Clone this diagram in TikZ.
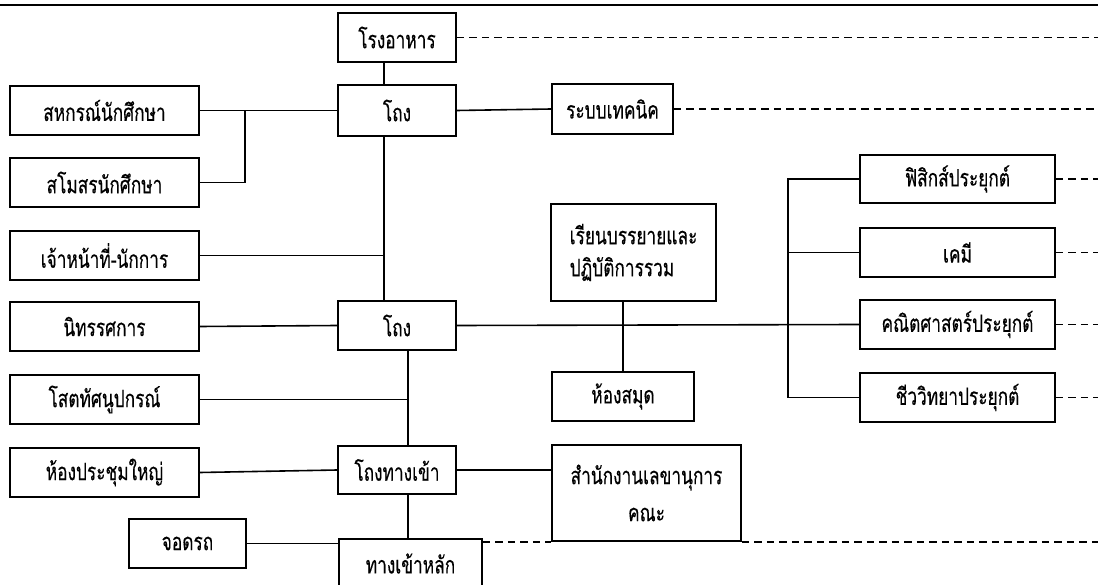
\documentclass[tikz,border=0pt]{standalone}
\usepackage{fontspec}
\newfontfamily\thaifont[Script=Thai,FakeStretch=0.72,FakeBold=0.3]{Loma}

\begin{document}
\begin{tikzpicture}[x=1pt,y=-1pt,
  box/.style={draw, line width=1.6pt, fill=white, inner sep=0pt,
    font=\thaifont\fontsize{24}{32}\selectfont, align=center},
  link/.style={line width=1.6pt},
  lead/.style={line width=1.6pt, dash pattern=on 7.5pt off 5pt}]
\useasboundingbox (0,0) rectangle (1098,585);
\fill[white] (0,0) rectangle (1098,585);
\clip (0,0) rectangle (1098,585);

% rule across the top edge
\draw[line width=1.8pt] (0,5) -- (1098,5);

% central column
\node[box, minimum width=118, minimum height=49] (food)  at (397,37.5)  {โรงอาหาร};
\node[box, minimum width=118, minimum height=51] (hallA) at (397,110.5) {โถง};
\node[box, minimum width=118, minimum height=49] (hallB) at (397,325.5) {โถง};
\node[box, minimum width=118, minimum height=48] (gate)  at (397,470)   {โถงทางเข้า};
\node[box, minimum width=143, minimum height=49] (entry) at (410.5,563.5) {ทางเข้าหลัก};

% left column
\node[box, minimum width=189, minimum height=49] (coop)  at (104.5,110.5) {สหกรณ์นักศึกษา};
\node[box, minimum width=189, minimum height=49] (club)  at (104.5,182.5) {สโมสรนักศึกษา};
\node[box, minimum width=189, minimum height=49] (staff) at (104.5,255.5) {เจ้าหน้าที่-นักการ};
\node[box, minimum width=189, minimum height=49] (exhib) at (104.5,326.5) {นิทรรศการ};
\node[box, minimum width=189, minimum height=49] (av)    at (104.5,399.5) {โสตทัศนูปกรณ์};
\node[box, minimum width=189, minimum height=49] (meet)  at (104.5,472.5) {ห้องประชุมใหญ่};
\node[box, minimum width=117, minimum height=49] (park)  at (187.5,543.5) {จอดรถ};

% middle column
\node[box, minimum width=121, minimum height=50] (tech)   at (612.5,109) {ระบบเทคนิค};
\node[box, minimum width=165, minimum height=97, align=left] (lect) at (633.5,252.5)
  {เรียนบรรยายและ\\ปฏิบัติการรวม};
\node[box, minimum width=142, minimum height=49] (lib)    at (623,396.5) {ห้องสมุด};
\node[box, minimum width=189, minimum height=96, font=\thaifont\fontsize{24}{37}\selectfont] (office) at (646.5,493)
  {สำนักงานเลขานุการ\\คณะ};

% right column
\node[box, minimum width=195, minimum height=48] (phys) at (957.5,179)   {ฟิสิกส์ประยุกต์};
\node[box, minimum width=195, minimum height=49] (chem) at (957.5,252.5) {เคมี};
\node[box, minimum width=195, minimum height=49] (math) at (957.5,324.5) {คณิตศาสตร์ประยุกต์};
\node[box, minimum width=195, minimum height=49] (bio)  at (957.5,397.5) {ชีววิทยาประยุกต์};

% spines and junctions
\coordinate (spA) at (384,0);
\coordinate (spB) at (408,0);
\coordinate (jc)  at (245,110.5);
\coordinate (br)  at (788,0);
\coordinate (edge) at (1098,0);

% upper spine
\draw[link] (food.south -| spA) -- (hallA.north -| spA);
\draw[link] (hallA.south -| spA) -- (hallB.north -| spA);
\draw[link] (coop.east) -- (hallA.west);
\draw[link] (club.east) -| (jc);
\draw[link] (staff.east) -- (staff.east -| spA);
\draw[link] (hallA.east) -- (tech.west);

% middle row
\draw[link] (exhib.east) -- (hallB.west);
\draw[link] (hallB.east) -- (math.west);
\draw[link] (lib.north) -- (lib.north |- lect.south);

% bracket to the departments
\draw[link] (phys.west) -- (phys.west -| br) -- (bio.west -| br) -- (bio.west);
\draw[link] (chem.west) -- (chem.west -| br);

% lower spine
\draw[link] (hallB.south -| spB) -- (gate.north -| spB);
\draw[link] (gate.south -| spB) -- (entry.north -| spB);
\draw[link] (av.east) -- (av.east -| spB);
\draw[link] (meet.east) -- (gate.west);
\draw[link] (gate.east) -- (office.west |- gate.east);
\draw[link] (park.east) -- (park.east -| entry.west);

% dashed leads running off to the right
\draw[lead] (food.east) -- (food.east -| edge);
\draw[lead] (tech.east) -- (tech.east -| edge);
\draw[lead] (phys.east) -- (phys.east -| edge);
\draw[lead] (chem.east) -- (chem.east -| edge);
\draw[lead] (math.east) -- (math.east -| edge);
\draw[lead] (bio.east) -- (bio.east -| edge);
\draw[lead] (entry.east |- office.south) -- (office.south west);
\draw[lead] (office.south east) -- (office.south -| edge);
\end{tikzpicture}
\end{document}
